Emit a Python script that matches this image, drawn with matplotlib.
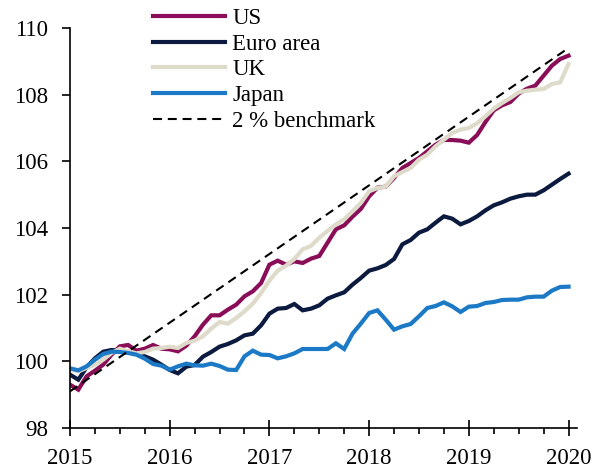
import matplotlib
matplotlib.use("Agg")
import matplotlib.pyplot as plt
from matplotlib.ticker import MultipleLocator
import numpy as np

plt.rcParams['font.family'] = ['Liberation Serif', 'DejaVu Serif']

start_year = 2015
# monthly index values, Jan 2015 .. Jan 2020
us = [99.3, 99.15, 99.55, 99.72, 99.9, 100.2, 100.45, 100.49, 100.32, 100.38,
      100.49, 100.38, 100.36, 100.3, 100.47, 100.75, 101.1, 101.38, 101.38, 101.55,
      101.7, 101.95, 102.1, 102.35, 102.9, 103.02, 102.9, 103.0, 102.95, 103.08,
      103.16, 103.56, 103.96, 104.08, 104.34, 104.57, 104.95, 105.21, 105.24, 105.5,
      105.8, 105.95, 106.1, 106.3, 106.5, 106.64, 106.64, 106.62, 106.56, 106.79,
      107.18, 107.53, 107.68, 107.78, 108.03, 108.18, 108.27, 108.57, 108.87, 109.07,
      109.17]
euro = [99.6, 99.45, 99.82, 100.09, 100.29, 100.34, 100.32, 100.29, 100.22, 100.15,
        100.05, 99.9, 99.74, 99.64, 99.84, 99.89, 100.14, 100.28, 100.44, 100.52,
        100.63, 100.78, 100.83, 101.08, 101.43, 101.58, 101.6, 101.72, 101.53, 101.58,
        101.68, 101.88, 101.98, 102.07, 102.3, 102.5, 102.72, 102.79, 102.89, 103.07,
        103.51, 103.64, 103.86, 103.96, 104.16, 104.35, 104.28, 104.11, 104.21, 104.35,
        104.53, 104.68, 104.77, 104.88, 104.95, 105.0, 105.0, 105.13, 105.3, 105.47,
        105.63]
uk = [99.75, 99.7, 99.8, 99.9, 100.05, 100.25, 100.38, 100.3, 100.24, 100.28,
      100.38, 100.4, 100.44, 100.4, 100.55, 100.62, 100.75, 100.98, 101.18, 101.13,
      101.3, 101.5, 101.73, 102.05, 102.42, 102.72, 102.87, 103.07, 103.36, 103.46,
      103.71, 103.91, 104.11, 104.26, 104.5, 104.75, 105.1, 105.2, 105.24, 105.55,
      105.68, 105.8, 106.05, 106.2, 106.45, 106.65, 106.85, 106.95, 107.0, 107.14,
      107.35, 107.58, 107.75, 107.9, 108.07, 108.12, 108.15, 108.17, 108.32, 108.37,
      108.92]
japan = [99.79, 99.73, 99.85, 100.05, 100.22, 100.29, 100.28, 100.25, 100.2, 100.08,
         99.92, 99.87, 99.75, 99.85, 99.93, 99.88, 99.87, 99.93, 99.86, 99.75,
         99.74, 100.15, 100.32, 100.2, 100.19, 100.09, 100.15, 100.24, 100.37, 100.37,
         100.37, 100.37, 100.54, 100.37, 100.83, 101.13, 101.45, 101.53, 101.25, 100.95,
         101.05, 101.12, 101.35, 101.6, 101.66, 101.77, 101.65, 101.48, 101.64, 101.66,
         101.75, 101.78, 101.84, 101.85, 101.85, 101.92, 101.94, 101.94, 102.12, 102.23,
         102.24]
bench_years = [2015.0, 2020.0]
bench_vals = [99.1, 109.4]

labels = ["US", "Euro area", "UK", "Japan", "2 % benchmark"]
colors = ["#8a0d58", "#0b1a3e", "#dedbcb", "#1b79c6", "#000000"]

x = start_year + np.arange(len(us)) / 12.0

fig = plt.figure(figsize=(6.08, 4.69), dpi=100)
ax = fig.add_axes([70/608, 1-428/469, (577-70)/608, (428-28)/469])

lw = 3.0
for series, lab, col in zip([us, euro, uk, japan], labels[:4], colors[:4]):
    ax.plot(x, series, color=col, lw=lw, label=lab, solid_joinstyle='miter')
ax.plot(bench_years, bench_vals, color=colors[4], lw=1.5, ls=(0, (4.3, 2.8)), label=labels[4])

ax.set_xlim(2015, 2020.085)
ax.set_ylim(98, 110)
ax.xaxis.set_major_locator(MultipleLocator(1))
ax.xaxis.set_minor_locator(MultipleLocator(0.25))
ax.yaxis.set_major_locator(MultipleLocator(2))
ax.xaxis.set_major_formatter(plt.FuncFormatter(lambda v, p: f"{int(round(v))}"))

for s in ['top', 'right']:
    ax.spines[s].set_visible(False)
for s in ['left', 'bottom']:
    ax.spines[s].set_linewidth(1.2)

fs = 16.5
ax.tick_params(axis='x', which='major', direction='inout', length=11, width=1.2,
               labelsize=fs, pad=9)
ax.tick_params(axis='x', which='minor', direction='out', length=4.5, width=1.2)
ax.tick_params(axis='y', which='major', direction='out', length=5.5, width=1.2,
               labelsize=fs, pad=10.5)

leg = ax.legend(loc='upper left', bbox_to_anchor=(153/608, 1-8/469),
                bbox_transform=fig.transFigure, frameon=False, fontsize=fs,
                handlelength=3.14, handletextpad=0.32, labelspacing=0.2,
                borderpad=0, borderaxespad=0)

fig.savefig("out.png", dpi=100)
